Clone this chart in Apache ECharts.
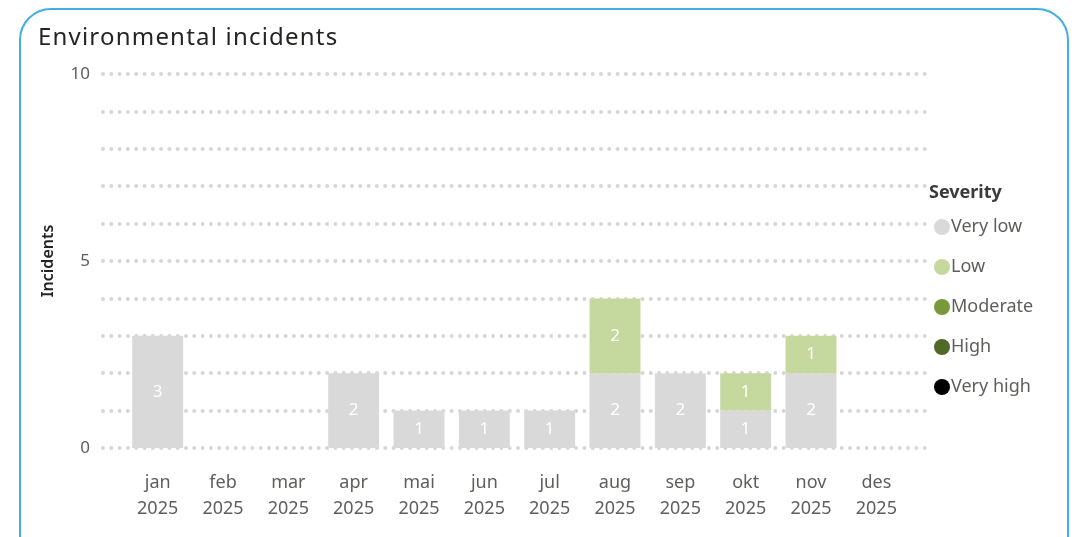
<!DOCTYPE html>
<html>
<head>
<meta charset="utf-8">
<script src="https://cdn.jsdelivr.net/npm/echarts@6/dist/echarts.min.js"></script>
<style>
  html, body { margin: 0; padding: 0; background: #fff; }
  .card {
    position: relative;
    width: 1076px;
    height: 537px;
    overflow: hidden;
  }
  .frame {
    position: absolute;
    left: 19px;
    top: 8px;
    width: 1050px;
    height: 560px;
    border: 2px solid #41aee6;
    border-radius: 32px;
    box-sizing: border-box;
  }
  .title {
    position: absolute;
    left: 38px;
    top: 19px;
    font-family: "Noto Sans", sans-serif;
    font-size: 24px;
    letter-spacing: 1.2px;
    color: #252423;
  }
  #chart {
    position: absolute;
    left: 0;
    top: 0;
    width: 1076px;
    height: 537px;
  }
</style>
</head>
<body>
<div class="card">
  <div class="frame"></div>
  <div id="chart"></div>
  <div class="title">Environmental incidents</div>
</div>
<script>
// data
const months = ['jan', 'feb', 'mar', 'apr', 'mai', 'jun', 'jul', 'aug', 'sep', 'okt', 'nov', 'des'];
const year = '2025';
const severities = ['Very low', 'Low', 'Moderate', 'High', 'Very high'];
const veryLow  = [3, 0, 0, 2, 1, 1, 1, 2, 2, 1, 2, 0];
const low      = [0, 0, 0, 0, 0, 0, 0, 2, 0, 1, 1, 0];
const moderate = [0, 0, 0, 0, 0, 0, 0, 0, 0, 0, 0, 0];
const high     = [0, 0, 0, 0, 0, 0, 0, 0, 0, 0, 0, 0];
const veryHigh = [0, 0, 0, 0, 0, 0, 0, 0, 0, 0, 0, 0];
const yTicks = [0, 5, 10];

const colors = ['#d9d9d9', '#c5d99f', '#77993a', '#4e6a26', '#000000'];
const font = '"Noto Sans", sans-serif';
const seriesValues = [veryLow, low, moderate, high, veryHigh];

const chart = echarts.init(document.getElementById('chart'));

chart.setOption({
  animation: false,
  textStyle: {fontFamily: font},
  grid: [
    {left: 103, right: 148, top: 74, bottom: 89},
    {left: 125, right: 167, top: 74, bottom: 89}
  ],
  xAxis: [
    {gridIndex: 0, type: 'value', min: 0, max: 1, show: false},
    {
      gridIndex: 1,
      type: 'category',
      data: months.map(m => m + '\n' + year),
      axisLine: {show: false},
      axisTick: {show: false},
      axisLabel: {
        margin: 22,
        fontSize: 18,
        lineHeight: 26,
        color: '#605e5c',
        fontFamily: font
      }
    }
  ],
  yAxis: [
    {
      gridIndex: 0,
      type: 'value',
      min: 0,
      max: 10,
      interval: 1,
      name: 'Incidents',
      nameLocation: 'middle',
      nameRotate: 90,
      nameGap: 47,
      nameTextStyle: {fontSize: 16, fontWeight: 600, color: '#252423', fontFamily: font},
      axisLine: {show: false},
      axisTick: {show: false},
      axisLabel: {
        margin: 13,
        fontSize: 17,
        color: '#605e5c',
        formatter: v => yTicks.includes(v) ? String(v) : ''
      },
      splitLine: {
        show: true,
        lineStyle: {color: '#d6d6d6', width: 4, type: [0, 8.3], cap: 'round'}
      }
    },
    {gridIndex: 1, type: 'value', min: 0, max: 10, show: false}
  ],
  legend: {
    orient: 'vertical',
    left: 929,
    top: 213,
    icon: 'circle',
    itemWidth: 16,
    itemHeight: 16,
    itemGap: 22,
    textStyle: {fontSize: 18, color: '#605e5c', fontFamily: font, padding: [0, 0, 0, -4]},
    data: severities
  },
  graphic: [{
    type: 'text',
    left: 929,
    top: 184,
    style: {text: 'Severity', font: 'bold 18px "Noto Sans", sans-serif', fill: '#3b3a39'}
  }],
  series: severities.map((name, i) => ({
    name: name,
    type: 'bar',
    stack: 'total',
    xAxisIndex: 1,
    yAxisIndex: 1,
    barCategoryGap: '22%',
    itemStyle: {color: colors[i]},
    label: {
      show: true,
      position: 'inside',
      color: '#ffffff',
      fontSize: 17,
      fontFamily: font,
      formatter: p => p.value ? String(p.value) : ''
    },
    data: seriesValues[i]
  }))
});
</script>
</body>
</html>
